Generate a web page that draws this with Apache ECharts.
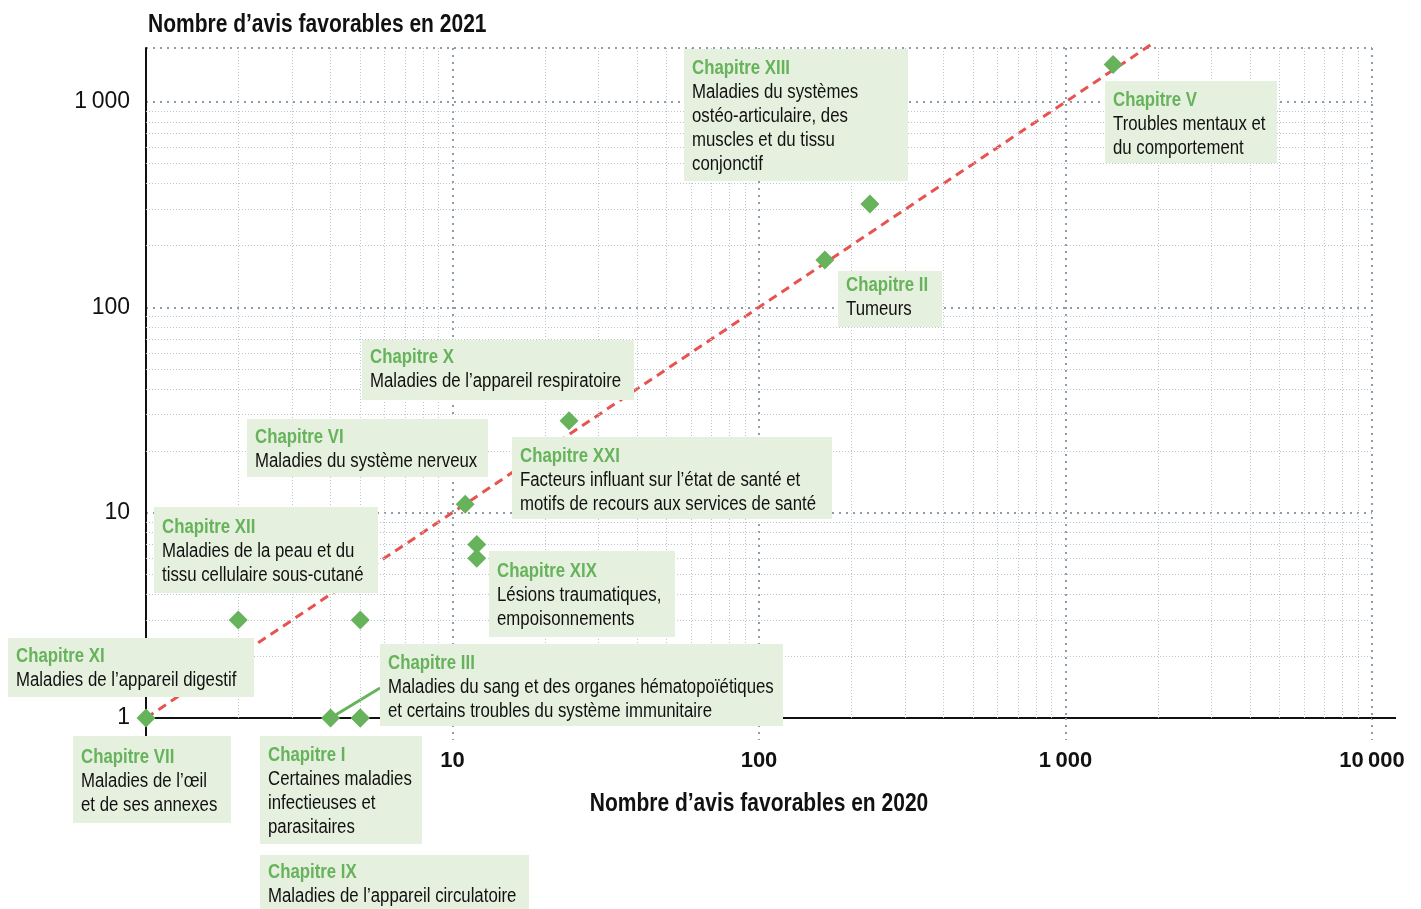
<!DOCTYPE html>
<html>
<head>
<meta charset="utf-8">
<script src="https://cdn.jsdelivr.net/npm/echarts@6/dist/echarts.min.js"></script>
<style>
html, body { margin: 0; padding: 0; background: #fff; }
#chart { width: 1421px; height: 909px; }
</style>
</head>
<body>
<div id="chart"></div>
<script>
// données : nombre d'avis favorables par chapitre
const chapters = ['VII', 'III', 'I', 'IX', 'XI', 'XII', 'VI', 'XXI', 'XIX', 'X', 'II', 'XIII', 'V'];
const avis2020 = [1, 4, 5, 5, 2, 5, 11, 12, 12, 24, 164, 230, 1430];
const avis2021 = [1, 1, 1, 1, 3, 3, 11, 7, 6, 28, 170, 318, 1520];
const refLine = [[1, 1], [1950, 1950]];

const xTicks = [1, 10, 100, 1000, 10000];
const yTicks = [1, 10, 100, 1000];

// textes des encadrés
const noteTitles = ['Chapitre XIII', 'Chapitre V', 'Chapitre II', 'Chapitre X', 'Chapitre VI', 'Chapitre XXI',
    'Chapitre XII', 'Chapitre XIX', 'Chapitre XI', 'Chapitre III', 'Chapitre VII', 'Chapitre I', 'Chapitre IX'];
const noteTexts = [
    ['Maladies du systèmes', 'ostéo-articulaire, des', 'muscles et du tissu', 'conjonctif'],
    ['Troubles mentaux et', 'du comportement'],
    ['Tumeurs'],
    ['Maladies de l’appareil respiratoire'],
    ['Maladies du système nerveux'],
    ['Facteurs influant sur l’état de santé et', 'motifs de recours aux services de santé'],
    ['Maladies de la peau et du', 'tissu cellulaire sous-cutané'],
    ['Lésions traumatiques,', 'empoisonnements'],
    ['Maladies de l’appareil digestif'],
    ['Maladies du sang et des organes hématopoïétiques', 'et certains troubles du système immunitaire'],
    ['Maladies de l’œil', 'et de ses annexes'],
    ['Certaines maladies', 'infectieuses et', 'parasitaires'],
    ['Maladies de l’appareil circulatoire']
];
// position des encadrés [gauche, haut, droite, bas, centre 1re ligne]
const noteBoxes = [
    [684, 49, 908, 181, 68], [1105, 81, 1277, 163, 100], [838, 271, 942, 327, 285],
    [362, 340, 634, 400, 357], [247, 419, 488, 477, 437], [512, 437, 832, 519, 456],
    [154, 507, 378, 593, 527], [489, 551, 675, 637, 571], [8, 638, 254, 697, 656],
    [380, 644, 783, 726, 663], [73, 736, 231, 823, 757], [260, 736, 422, 844, 755],
    [260, 855, 529, 909, 872]
];

const FONT = '"Liberation Sans", Arial, sans-serif';
const NARROW = 0.84;   // pas de police étroite installée : on comprime
const GREEN = '#67b35c';
const MAJOR = '#8d9dab';
const MINOR = '#b9c4cd';

function fmtNum(v) {
    if (v >= 1000) return String(v).replace(/(\d)(?=(\d{3})+$)/g, '$1\u202f');
    return String(v);
}

let minorX = [], minorY = [];
for (let d = 1; d <= 1000; d *= 10) {
    for (let k = 2; k <= 9; k++) {
        minorX.push(k * d);
        if (k * d < 1830) minorY.push(k * d);
    }
}

const chart = echarts.init(document.getElementById('chart'));

chart.setOption({
    animation: false,
    textStyle: { fontFamily: FONT },
    grid: { left: 146, right: 49, top: 48, bottom: 191, containLabel: false },
    xAxis: {
        type: 'log', logBase: 10, min: 1, max: 10000,
        axisLine: { lineStyle: { color: '#111', width: 2 } },
        axisTick: { show: true, length: 22, lineStyle: { color: MAJOR, width: 2, type: [2, 5] } },
        axisLabel: {
            margin: 32, fontSize: 22, fontWeight: 'bold', color: '#111',
            formatter: v => (xTicks.indexOf(v) > 0 ? fmtNum(v) : '')
        },
        splitLine: { show: true, lineStyle: { color: MAJOR, width: 2, type: [2, 5] } },
        minorTick: { show: false }
    },
    yAxis: {
        type: 'log', logBase: 10, min: 1, max: 1830,
        axisLine: { show: true, lineStyle: { color: '#111', width: 2 } },
        axisTick: { show: false },
        axisLabel: {
            margin: 16, fontSize: 23, color: '#111',
            formatter: v => (yTicks.indexOf(Math.round(v)) >= 0 && Math.abs(v - Math.round(v)) < 1e-6 ? fmtNum(Math.round(v)) : '')
        },
        splitLine: { show: true, lineStyle: { color: MAJOR, width: 2, type: [2, 5] } }
    },
    series: [
        {
            type: 'line',
            data: refLine,
            symbol: 'none',
            clip: false,
            silent: true,
            z: 3,
            lineStyle: { color: '#e8524f', width: 3, type: [9, 6] },
            markLine: {
                silent: true,
                symbol: ['none', 'none'],
                label: { show: false },
                lineStyle: { color: MINOR, width: 1, type: [1, 2] },
                data: minorX.map(v => ({ xAxis: v })).concat(minorY.map(v => ({ yAxis: v })))
            }
        },
        {
            type: 'scatter',
            name: 'Chapitres',
            data: avis2020.map((x, i) => ({ value: [x, avis2021[i]], name: chapters[i] })),
            symbol: 'diamond',
            symbolSize: 19,
            clip: false,
            z: 5,
            itemStyle: { color: GREEN, opacity: 1 }
        }
    ]
});

// titres, encadrés, trait de rappel et prolongement des axes
const origin = chart.convertToPixel({ gridIndex: 0 }, [1, 1]);
const xEnd = chart.convertToPixel({ gridIndex: 0 }, [10000, 1]);
const xMid = (origin[0] + xEnd[0]) / 2;
const iIII = chapters.indexOf('III');
const pIII = chart.convertToPixel({ gridIndex: 0 }, [avis2020[iIII], avis2021[iIII]]);

const graphics = [
    {
        type: 'text', z: 30, silent: true, x: 148, y: 25, scaleX: NARROW,
        style: { text: 'Nombre d’avis favorables en 2021', font: 'bold 25px ' + FONT, fill: '#111', verticalAlign: 'middle' }
    },
    {
        type: 'text', z: 30, silent: true, x: xMid, y: 804, scaleX: NARROW,
        style: { text: 'Nombre d’avis favorables en 2020', font: 'bold 25px ' + FONT, fill: '#111', align: 'center', verticalAlign: 'middle' }
    },
    { type: 'line', z: 3, silent: true, shape: { x1: xEnd[0], y1: origin[1], x2: xEnd[0] + 24, y2: origin[1] }, style: { stroke: '#111', lineWidth: 2 } },
    { type: 'line', z: 3, silent: true, shape: { x1: origin[0], y1: origin[1], x2: origin[0], y2: origin[1] + 18 }, style: { stroke: '#111', lineWidth: 2 } },
    { type: 'line', z: 1, silent: true, shape: { x1: pIII[0], y1: pIII[1], x2: noteBoxes[9][0], y2: 688 }, style: { stroke: GREEN, lineWidth: 3 } }
];

noteBoxes.forEach((b, i) => {
    graphics.push({
        type: 'rect', z: 20, silent: true,
        shape: { x: b[0], y: b[1], width: b[2] - b[0], height: b[3] - b[1] },
        style: { fill: '#e6f0df' }
    });
    const txt = ['{t|' + noteTitles[i] + '}'].concat(noteTexts[i].map(s => '{b|' + s + '}')).join('\n');
    graphics.push({
        type: 'text', z: 21, silent: true,
        x: b[0] + 8, y: b[4] - 12, scaleX: NARROW,
        style: {
            text: txt,
            fontFamily: FONT,
            verticalAlign: 'top',
            rich: {
                t: { fontFamily: FONT, fontSize: 20, fontWeight: 'bold', fill: GREEN, lineHeight: 24 },
                b: { fontFamily: FONT, fontSize: 20, fill: '#111', lineHeight: 24 }
            }
        }
    });
});

chart.setOption({ graphic: graphics });
</script>
</body>
</html>
